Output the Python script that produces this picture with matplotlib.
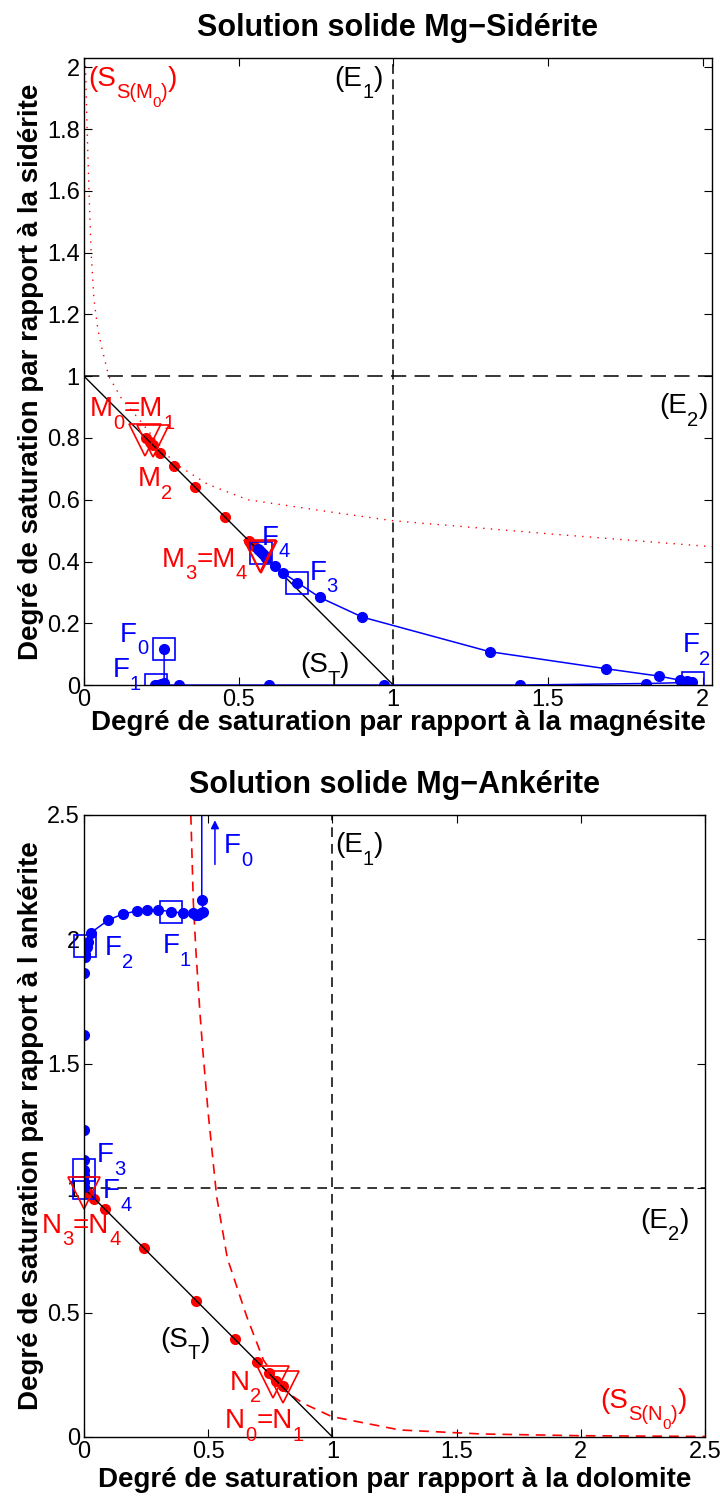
import matplotlib.pyplot as plt
from matplotlib.ticker import FormatStrFormatter

plt.rcParams['font.family'] = ['Liberation Sans', 'DejaVu Sans']
plt.rcParams['lines.scale_dashes'] = False

BLUE = '#0000ff'
RED = '#ff0000'

# ---------- data: Mg-Siderite ----------
sid_st_x = [0, 1]
sid_st_y = [1, 0]
sid_ss_x = [0.004, 0.01, 0.016, 0.023, 0.032, 0.045, 0.058, 0.08, 0.12, 0.17, 0.29, 0.40, 0.53, 0.8, 1.0, 1.5, 2.03]
sid_ss_y = [2.03, 1.8, 1.6, 1.4, 1.25, 1.15, 1.09, 1.0, 0.93, 0.87, 0.72, 0.65, 0.60, 0.56, 0.532, 0.49, 0.448]
sid_f_x = [0.259, 0.259, 0.25, 0.24, 0.23, 0.308, 0.598, 0.97, 1.409, 1.816, 1.94, 1.958, 1.965,
           1.95, 1.926, 1.859, 1.687, 1.312, 0.900, 0.762, 0.690, 0.644, 0.617, 0.590, 0.584, 0.578, 0.572, 0.566, 0.562]
sid_f_y = [0.118, 0.006, 0.003, 0.0, 0.0, 0.0, 0.0, 0.0, 0.0, 0.005, 0.008, 0.008, 0.009,
           0.012, 0.016, 0.029, 0.053, 0.108, 0.220, 0.284, 0.332, 0.363, 0.387, 0.411, 0.417, 0.424, 0.43, 0.436, 0.44]
sid_fbox_x = [0.259, 0.233, 1.969, 0.690, 0.572]
sid_fbox_y = [0.118, 0.0, 0.008, 0.332, 0.428]
sid_m_x = [0.20, 0.212, 0.224, 0.247, 0.29, 0.36, 0.457, 0.532, 0.55]
sid_m_y = [0.80, 0.788, 0.776, 0.753, 0.71, 0.64, 0.543, 0.468, 0.45]
sid_tri_x = [0.197, 0.224, 0.568, 0.572]
sid_tri_y = [0.795, 0.79, 0.418, 0.414]

# ---------- data: Mg-Ankerite ----------
ank_st_x = [0, 1]
ank_st_y = [1, 0]
ank_ss_x = [0.43, 0.44, 0.451, 0.467, 0.478, 0.50, 0.534, 0.577, 0.655, 0.722, 0.802, 0.883, 0.997, 1.272, 1.6, 2.0, 2.5]
ank_ss_y = [2.5, 2.15, 1.944, 1.70, 1.556, 1.3, 0.966, 0.718, 0.484, 0.31, 0.189, 0.135, 0.082, 0.028, 0.012, 0.005, 0.002]
ank_f_x = [0.474, 0.474, 0.48, 0.47, 0.46, 0.45, 0.44, 0.40, 0.35, 0.297, 0.252, 0.212, 0.156, 0.098, 0.028,
           0.015, 0.01, 0.005, 0.003, 0.0, 0.0, 0.0, 0.0, 0.0, 0.0, 0.0, 0.0]
ank_f_y = [2.6, 2.16, 2.11, 2.105, 2.1, 2.1, 2.105, 2.105, 2.112, 2.118, 2.118, 2.114, 2.102, 2.078, 2.027,
           1.99, 1.97, 1.94, 1.93, 1.866, 1.615, 1.234, 1.113, 1.073, 1.053, 1.026, 1.006]
ank_fbox_x = [0.35, 0.004, 0.0, 0.0]
ank_fbox_y = [2.11, 1.975, 1.073, 1.0]
ank_n_x = [0.0, 0.017, 0.041, 0.085, 0.242, 0.451, 0.608, 0.698, 0.746, 0.773, 0.80]
ank_n_y = [1.0, 0.979, 0.955, 0.915, 0.758, 0.548, 0.393, 0.301, 0.256, 0.226, 0.205]
ank_tri_x = [0.762, 0.802, 0.0]
ank_tri_y = [0.222, 0.202, 0.982]
ank_arrow_x = [0.527, 0.527]
ank_arrow_y = [2.29, 2.49]

fig = plt.figure(figsize=(7.2, 15.02), dpi=100)
ax1 = fig.add_axes([0.1167, 0.5439, 0.872, 0.4174])
ax2 = fig.add_axes([0.1167, 0.0433, 0.8625, 0.4141])

# font size and baseline drop (points) for each subscript level
SIZES = [20, 14.5, 11]
DROP = [0, 9, 15.5]


def style(ax, lim):
    ax.set_xlim(0, lim)
    ax.set_ylim(0, lim)
    ax.tick_params(direction='in', top=True, right=True, labelsize=17, length=6, width=0.8, pad=3)
    for s in ax.spines.values():
        s.set_linewidth(1.0)
    ax.xaxis.set_major_formatter(FormatStrFormatter('%g'))
    ax.yaxis.set_major_formatter(FormatStrFormatter('%g'))


def lbl(ax, x, y, parts, c):
    # parts: list of (text, subscript level), chained left to right like MATLAB tex labels
    t = ax.text(x, y, parts[0][0], color=c, fontsize=SIZES[parts[0][1]],
                va='baseline', ha='left', clip_on=False)
    for s, lev in parts[1:]:
        t = ax.annotate(s, xy=(1, y), xycoords=(t, 'data'), xytext=(0, -DROP[lev]),
                        textcoords='offset points', color=c, fontsize=SIZES[lev],
                        va='baseline', ha='left', annotation_clip=False)


# ---------- top ----------
ax = ax1
ax.axhline(1, color='k', lw=1.1, dashes=(11, 6))
ax.axvline(1, color='k', lw=1.1, dashes=(7, 4))
ax.plot(sid_ss_x, sid_ss_y, color=RED, lw=1.0, dashes=(1, 4.5))
ax.plot(sid_m_x, sid_m_y, 'o', color=RED, ms=7)
ax.plot(sid_st_x, sid_st_y, color='k', lw=1.0)
ax.plot(sid_f_x, sid_f_y, '-o', color=BLUE, ms=7, lw=1.1)
ax.plot(sid_fbox_x, sid_fbox_y, 's', mfc='none', mec=BLUE, ms=16, mew=1.2)
ax.plot(sid_tri_x, sid_tri_y, 'v', mfc='none', mec=RED, ms=23, mew=1.2)
ax.set_xticks([0, 0.5, 1, 1.5, 2])
ax.set_yticks([0, 0.2, 0.4, 0.6, 0.8, 1, 1.2, 1.4, 1.6, 1.8, 2])
style(ax, 2.03)
lbl(ax, 0.013, 1.94, [('(S', 0), ('S(M', 1), ('0', 2), (')', 1), (')', 0)], RED)
lbl(ax, 0.81, 1.94, [('(E', 0), ('1', 1), (')', 0)], 'k')
lbl(ax, 1.86, 0.88, [('(E', 0), ('2', 1), (')', 0)], 'k')
lbl(ax, 0.019, 0.87, [('M', 0), ('0', 1), ('=M', 0), ('1', 1)], RED)
lbl(ax, 0.175, 0.643, [('M', 0), ('2', 1)], RED)
lbl(ax, 0.252, 0.383, [('M', 0), ('3', 1), ('=M', 0), ('4', 1)], RED)
lbl(ax, 0.575, 0.455, [('F', 0), ('4', 1)], BLUE)
lbl(ax, 0.73, 0.341, [('F', 0), ('3', 1)], BLUE)
lbl(ax, 0.698, 0.042, [('(S', 0), ('T', 1), (')', 0)], 'k')
lbl(ax, 1.935, 0.107, [('F', 0), ('2', 1)], BLUE)
lbl(ax, 0.116, 0.14, [('F', 0), ('0', 1)], BLUE)
lbl(ax, 0.094, 0.026, [('F', 0), ('1', 1)], BLUE)
ax.set_title('Solution solide Mg\u2212Sidérite', fontsize=22, fontweight='bold', pad=16)
ax.set_xlabel('Degré de saturation par rapport à la magnésite', fontsize=20, fontweight='bold', labelpad=-1)
ax.set_ylabel('Degré de saturation par rapport à la sidérite', fontsize=20, fontweight='bold', labelpad=2)

# ---------- bottom ----------
ax = ax2
ax.axhline(1, color='k', lw=1.1, dashes=(7, 5))
ax.axvline(1, color='k', lw=1.1, dashes=(7, 5))
ax.plot(ank_ss_x, ank_ss_y, color=RED, lw=1.2, dashes=(7, 5))
ax.plot(ank_n_x, ank_n_y, 'o', color=RED, ms=7)
ax.plot(ank_st_x, ank_st_y, color='k', lw=1.0)
ax.plot(ank_f_x, ank_f_y, '-o', color=BLUE, ms=7, lw=1.1)
ax.plot(ank_fbox_x, ank_fbox_y, 's', mfc='none', mec=BLUE, ms=16, mew=1.2, clip_on=False)
ax.plot(ank_tri_x, ank_tri_y, 'v', mfc='none', mec=RED, ms=23, mew=1.2, clip_on=False)
ax.annotate('', xy=(ank_arrow_x[1], ank_arrow_y[1]), xytext=(ank_arrow_x[0], ank_arrow_y[0]),
            arrowprops=dict(arrowstyle='-|>', color=BLUE, lw=1.1, mutation_scale=12))
ax.set_xticks([0, 0.5, 1, 1.5, 2, 2.5])
ax.set_yticks([0, 0.5, 1, 1.5, 2, 2.5])
style(ax, 2.5)
lbl(ax, 1.01, 2.35, [('(E', 0), ('1', 1), (')', 0)], 'k')
lbl(ax, 0.564, 2.347, [('F', 0), ('0', 1)], BLUE)
lbl(ax, 0.318, 1.945, [('F', 0), ('1', 1)], BLUE)
lbl(ax, 0.085, 1.937, [('F', 0), ('2', 1)], BLUE)
lbl(ax, 0.052, 1.105, [('F', 0), ('3', 1)], BLUE)
lbl(ax, 0.077, 0.96, [('F', 0), ('4', 1)], BLUE)
lbl(ax, -0.17, 0.82, [('N', 0), ('3', 1), ('=N', 0), ('4', 1)], RED)
lbl(ax, 0.306, 0.362, [('(S', 0), ('T', 1), (')', 0)], 'k')
lbl(ax, 0.588, 0.189, [('N', 0), ('2', 1)], RED)
lbl(ax, 0.568, 0.036, [('N', 0), ('0', 1), ('=N', 0), ('1', 1)], RED)
lbl(ax, 2.077, 0.117, [('(S', 0), ('S(N', 1), ('0', 2), (')', 1), (')', 0)], RED)
lbl(ax, 2.24, 0.84, [('(E', 0), ('2', 1), (')', 0)], 'k')
ax.set_title('Solution solide Mg\u2212Ankérite', fontsize=22, fontweight='bold', pad=16)
ax.set_xlabel('Degré de saturation par rapport à la dolomite', fontsize=20, fontweight='bold', labelpad=3)
ax.set_ylabel('Degré de saturation par rapport à l ankérite', fontsize=20, fontweight='bold', labelpad=2)

fig.savefig('out.png', dpi=100)
